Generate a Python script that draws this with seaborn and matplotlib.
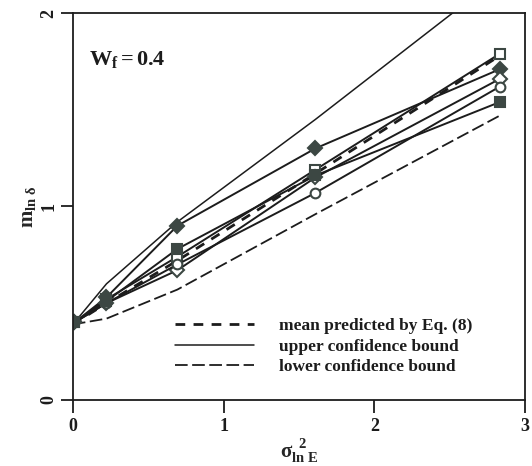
import pandas as pd
import seaborn as sns
import matplotlib.pyplot as plt

# variance of ln E (x positions of the simulations)
x_sigma2 = [0.01, 0.223, 0.693, 1.609, 2.833]

# simulated means of ln(delta), one list per series
open_square = [0.40, 0.52, 0.74, 1.19, 1.79]
filled_diamond = [0.40, 0.53, 0.90, 1.30, 1.71]
open_diamond = [0.40, 0.50, 0.67, 1.15, 1.66]
open_circle = [0.40, 0.50, 0.70, 1.07, 1.62]
filled_square = [0.40, 0.51, 0.78, 1.16, 1.54]

# predicted mean and confidence bounds
x_pred = [0.0, 0.223, 0.693, 1.609, 2.833]
mean_pred = [0.39, 0.50, 0.72, 1.17, 1.78]
upper_bound = [0.39, 0.60, 0.92, 1.45, 2.19]
lower_bound = [0.39, 0.42, 0.57, 0.96, 1.47]

sns.set_style("ticks")
plt.rcParams['font.family'] = ['Liberation Serif', 'DejaVu Serif']
plt.rcParams['mathtext.fontset'] = 'custom'
plt.rcParams['mathtext.rm'] = 'Liberation Serif'
plt.rcParams['mathtext.it'] = 'Liberation Serif:italic'
plt.rcParams['mathtext.bf'] = 'Liberation Serif:bold'

ink = "#1c1c1c"
grey = "#3c4743"

fig = plt.figure(figsize=(5.32, 4.66), dpi=100)
ax = fig.add_axes([0.137, 0.142, 0.850, 0.830])

pred = pd.DataFrame({"x": x_pred, "mean": mean_pred,
                     "upper": upper_bound, "lower": lower_bound})

sns.lineplot(data=pred, x="x", y="mean", ax=ax, color=ink, lw=2.0,
             linestyle=(0, (3.5, 3)), label="mean predicted by Eq. (8)")
sns.lineplot(data=pred, x="x", y="upper", ax=ax, color=ink, lw=1.1,
             label="upper confidence bound")
sns.lineplot(data=pred, x="x", y="lower", ax=ax, color=ink, lw=1.3,
             linestyle=(0, (7, 2.5)), label="lower confidence bound")

series = [
    (open_square, "s", "white"),
    (filled_diamond, "D", grey),
    (open_diamond, "D", "white"),
    (open_circle, "o", "white"),
    (filled_square, "s", grey),
]
for yvals, mk, face in series:
    sns.lineplot(x=x_sigma2, y=yvals, ax=ax, color=ink, lw=1.4,
                 marker=mk, markersize=7, markerfacecolor=face,
                 markeredgecolor=grey, markeredgewidth=1.5,
                 legend=False, label="_nolegend_")

ax.set_xlim(0, 3)
ax.set_ylim(0, 2)
ax.set_xticks([0, 1, 2, 3])
ax.set_yticks([0, 1, 2])
ax.tick_params(direction="out", length=9, width=1.3, labelsize=13,
               colors=ink, pad=4)
ax.tick_params(axis="y", pad=2)
for lab in ax.get_yticklabels():
    lab.set_rotation(90)
    lab.set_va("center")
for lab in ax.get_xticklabels() + ax.get_yticklabels():
    lab.set_fontweight("bold")
for sp in ax.spines.values():
    sp.set_visible(True)
    sp.set_linewidth(1.3)
    sp.set_color(ink)

ax.set_xlabel(r"$\mathbf{\sigma_{ln\ E}^{\ \ 2}}$", fontsize=15, labelpad=2)
ax.set_ylabel(r"$\mathbf{m_{ln\ \delta}}$", fontsize=15, labelpad=2)

ax.text(0.035, 0.865, r"$\mathbf{W_f = 0.4}$", transform=ax.transAxes,
        fontsize=16, color=ink)

leg = ax.legend(loc="center left", bbox_to_anchor=(0.225, 0.137),
                frameon=False, fontsize=12.5, handlelength=4.6,
                handletextpad=1.4, labelspacing=0.25, borderpad=0,
                borderaxespad=0)
for t in leg.get_texts():
    t.set_fontweight("bold")
    t.set_color(ink)

fig.savefig("out.png", dpi=100)
